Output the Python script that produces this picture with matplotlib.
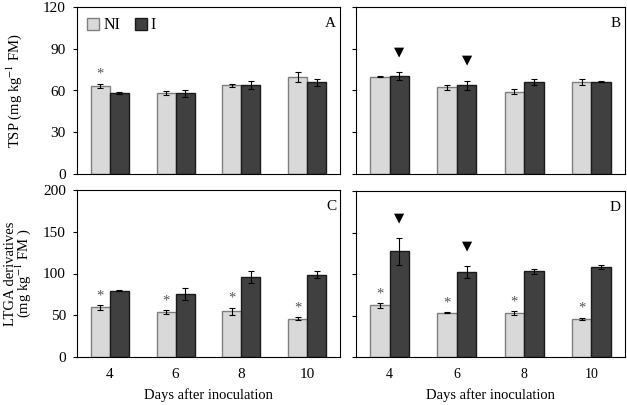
import numpy as np
import matplotlib
matplotlib.use("Agg")
import matplotlib.pyplot as plt
from matplotlib.patches import Patch

plt.rcParams['font.family'] = ['Liberation Serif', 'DejaVu Serif']
plt.rcParams['mathtext.fontset'] = 'stix'

days = ['4', '6', '8', '10']

# Panel A: TSP, first set
A_ni = [63.3, 58.3, 63.6, 69.6]
A_ni_err = [1.5, 1.5, 0.8, 3.5]
A_i = [58.1, 57.9, 63.8, 66.0]
A_i_err = [0.8, 2.5, 2.8, 2.5]
A_star = [True, False, False, False]
A_tri = [False, False, False, False]

# Panel B: TSP, second set
B_ni = [69.8, 62.2, 59.0, 66.2]
B_ni_err = [0.4, 1.8, 1.8, 2.0]
B_i = [70.3, 63.6, 66.2, 66.2]
B_i_err = [2.8, 3.5, 2.0, 0.3]
B_star = [False, False, False, False]
B_tri = [True, True, False, False]

# Panel C: LTGA derivatives, first set
C_ni = [59.4, 53.8, 54.6, 45.8]
C_ni_err = [3.0, 2.2, 4.5, 2.0]
C_i = [79.5, 75.5, 96.0, 98.8]
C_i_err = [1.0, 7.5, 7.5, 4.0]
C_star = [True, True, True, True]
C_tri = [False, False, False, False]

# Panel D: LTGA derivatives, second set
D_ni = [62.2, 53.4, 53.0, 45.8]
D_ni_err = [3.0, 0.8, 2.5, 1.5]
D_i = [127.3, 102.4, 103.6, 108.4]
D_i_err = [16.0, 7.0, 3.0, 2.5]
D_star = [True, True, True, True]
D_tri = [True, True, False, False]

ni_color = '#d9d9d9'
ni_edge = '#7f7f7f'
i_color = '#404040'
i_edge = '#1a1a1a'

W, H = 627, 405
fig = plt.figure(figsize=(W / 100, H / 100), dpi=100)

def rect(l, t, r, b):
    return [l / W, 1 - b / H, (r - l) / W, (b - t) / H]

axA = fig.add_axes(rect(77, 7, 340, 174))
axB = fig.add_axes(rect(356, 7, 625, 174))
axC = fig.add_axes(rect(77, 190, 340, 357))
axD = fig.add_axes(rect(356, 191, 625, 357))

bw = 0.29
x = np.arange(len(days))

def draw(ax, ni, ni_err, ii, i_err, star, tri, ymax, yticks, letter):
    ax.bar(x - bw / 2, ni, bw, color=ni_color, edgecolor=ni_edge, linewidth=1.0, zorder=2)
    ax.bar(x + bw / 2, ii, bw, color=i_color, edgecolor=i_edge, linewidth=1.0, zorder=2)
    ax.errorbar(x - bw / 2, ni, yerr=ni_err, fmt='none', ecolor='black', elinewidth=0.8,
                capsize=2.2, capthick=0.8, zorder=3)
    ax.errorbar(x + bw / 2, ii, yerr=i_err, fmt='none', ecolor='black', elinewidth=0.8,
                capsize=2.2, capthick=0.8, zorder=3)
    for k in range(len(days)):
        if star[k]:
            ax.annotate('*', (x[k] - bw / 2, ni[k] + ni_err[k]), xytext=(0, 2),
                        textcoords='offset points', ha='center', va='bottom',
                        fontsize=10.5, color='#555555')
        if tri[k]:
            ax.annotate('\u25BC', (x[k] + bw / 2, ii[k] + i_err[k]), xytext=(0, 10),
                        textcoords='offset points', ha='center', va='bottom',
                        fontsize=9.5, color='black', family=['DejaVu Sans'])
    ax.set_xlim(-0.5, len(days) - 0.5)
    ax.set_ylim(0, ymax)
    ax.set_yticks(yticks)
    ax.set_xticks(x)
    ax.tick_params(axis='x', length=0)
    ax.tick_params(axis='y', direction='out', length=3, width=0.8)
    ax.text(0.985, 0.94, letter, transform=ax.transAxes, ha='right', va='top', fontsize=11)
    for s in ax.spines.values():
        s.set_linewidth(0.8)

draw(axA, A_ni, A_ni_err, A_i, A_i_err, A_star, A_tri, 120, [0, 30, 60, 90, 120], 'A')
draw(axB, B_ni, B_ni_err, B_i, B_i_err, B_star, B_tri, 120, [0, 30, 60, 90, 120], 'B')
draw(axC, C_ni, C_ni_err, C_i, C_i_err, C_star, C_tri, 200, [0, 50, 100, 150, 200], 'C')
draw(axD, D_ni, D_ni_err, D_i, D_i_err, D_star, D_tri, 200, [0, 50, 100, 150, 200], 'D')

for ax in (axA, axB):
    ax.set_xticklabels([])
for ax in (axB, axD):
    ax.set_yticklabels([])
for ax in (axA, axC):
    ax.tick_params(axis='y', labelsize=11, pad=5)
axC.set_xticklabels(days, fontsize=11)
axD.set_xticklabels(days, fontsize=10)
axC.tick_params(axis='x', pad=8)
axD.tick_params(axis='x', pad=8)

axA.set_ylabel('TSP (mg kg$^{-1}$ FM)', fontsize=10.5, labelpad=14)
axC.set_ylabel('LTGA derivatives\n(mg kg$^{-1}$ FM )', fontsize=10.5, linespacing=0.8,
               labelpad=7)
axC.set_xlabel('Days after inoculation', fontsize=10.5, labelpad=5)
axD.set_xlabel('Days after inoculation', fontsize=10.5, labelpad=5)

handles = [Patch(facecolor=ni_color, edgecolor=ni_edge, label='NI'),
           Patch(facecolor=i_color, edgecolor=i_edge, label='I')]
axA.legend(handles=handles, loc='upper left', ncol=2, frameon=False, fontsize=11.5,
           handlelength=0.75, handleheight=0.75, handletextpad=0.25, columnspacing=0.9,
           borderaxespad=0.25, bbox_to_anchor=(0.0, 1.0))

fig.savefig('out.png', dpi=100)
